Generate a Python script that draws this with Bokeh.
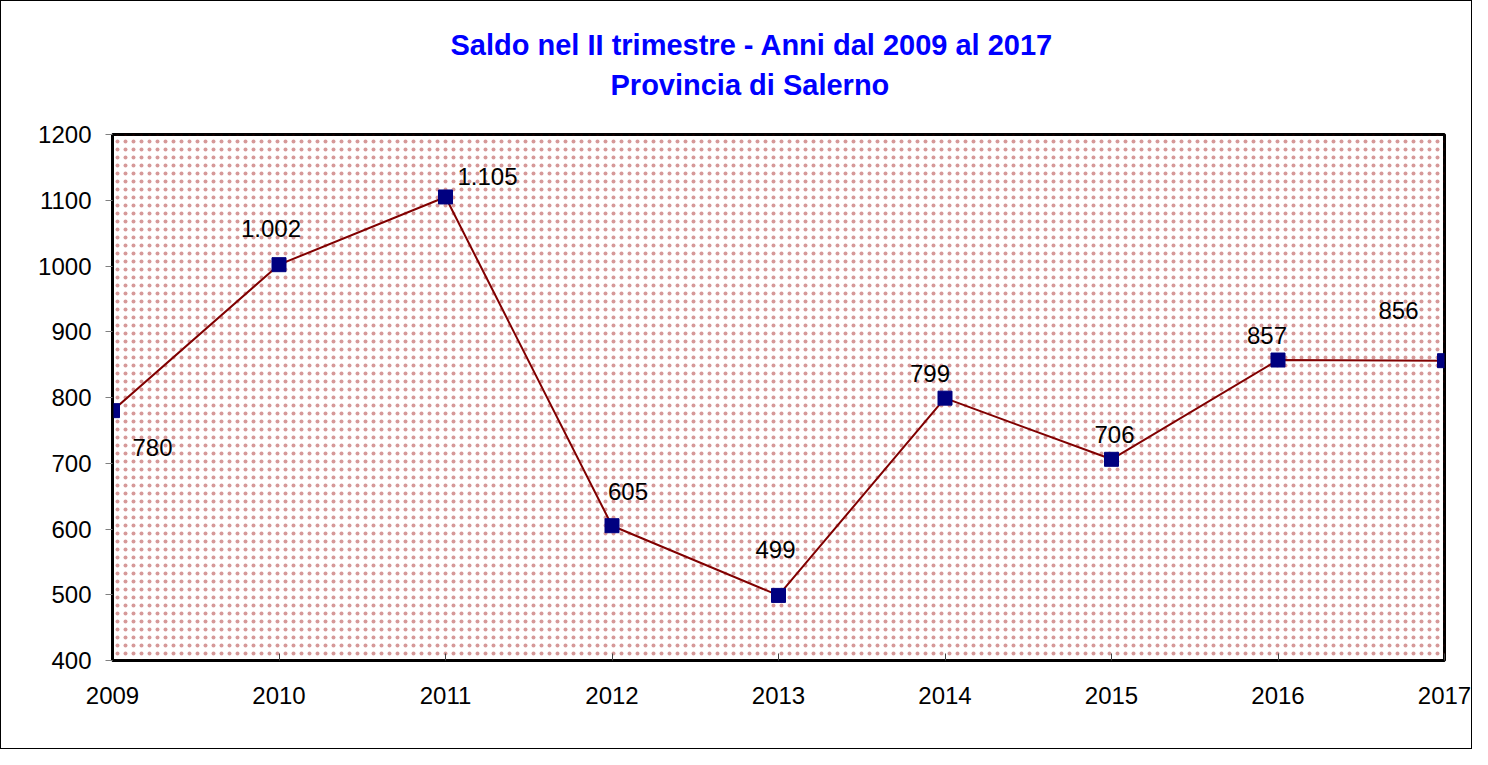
from bokeh.plotting import figure
from bokeh.models import ColumnDataSource, FixedTicker, BoxAnnotation, Range1d, Title
from bokeh.embed import file_html
from bokeh.resources import INLINE

years = [2009, 2010, 2011, 2012, 2013, 2014, 2015, 2016, 2017]
saldo = [780, 1002, 1105, 605, 499, 799, 706, 857, 856]
labels = ["780", "1.002", "1.105", "605", "499", "799", "706", "857", "856"]
y_ticks = [400, 500, 600, 700, 800, 900, 1000, 1100, 1200]
title_lines = ["Saldo nel II trimestre - Anni dal 2009 al 2017", "Provincia di Salerno"]

# label offsets in pixels (style only; positive dy = downwards)
dx = [40, -8, 42, 16, -3, -15, 3, -11, -46]
dy = [37, -36, -20, -34, -46, -25, -25, -25, -50]

src = ColumnDataSource(dict(x=years, y=saldo, lab=labels, dx=dx, dy=dy))

p = figure(width=1472, height=749, output_backend="svg", toolbar_location=None,
           x_range=Range1d(2009, 2017), y_range=Range1d(400, 1200),
           min_border_left=111, min_border_right=29, min_border_top=133, min_border_bottom=90)
p.styles = {"border": "1px solid black"}

TITLE_FONT = "Liberation Sans"
p.title.text = title_lines[0]
p.title.align = "left"
p.title.offset = 338
p.title.text_color = "#0000FF"
p.title.text_font = TITLE_FONT
p.title.text_font_size = "29px"
p.title.text_font_style = "bold"
p.title.standoff = 12
spacer = Title(text=" ", text_font=TITLE_FONT, text_font_size="29px", standoff=0)
p.add_layout(spacer, "above")
t2 = Title(text=title_lines[1], align="left", offset=498,
           text_color="#0000FF", text_font=TITLE_FONT, text_font_size="29px",
           text_font_style="bold", standoff=0)
p.add_layout(t2, "above")

p.xgrid.visible = False
p.ygrid.visible = False
p.outline_line_color = "black"
p.outline_line_width = 3
p.background_fill_color = "white"

bg = BoxAnnotation(fill_color=None, hatch_pattern="dot", hatch_color="#990000",
                   hatch_scale=8, hatch_weight=0.45, hatch_alpha=0.4, line_color=None, level="underlay")
p.add_layout(bg)

p.line("x", "y", source=src, line_color="#800000", line_width=2)
p.scatter("x", "y", source=src, marker="square", size=14, fill_color="#000080", line_color="#000080")
p.text("x", "y", text="lab", source=src, x_offset="dx", y_offset="dy",
       text_align="center", text_baseline="middle", text_font_size="24px",
       text_font={"value": "Liberation Sans"}, text_color="black")

p.xaxis.ticker = FixedTicker(ticks=years)
p.yaxis.ticker = FixedTicker(ticks=y_ticks)
for ax in (p.xaxis[0], p.yaxis[0]):
    ax.major_label_text_font = "Liberation Sans"
    ax.major_label_text_font_size = "24px"
    ax.major_label_text_color = "black"
    ax.minor_tick_line_color = None
    ax.axis_line_color = "black"
    ax.axis_line_width = 2
p.xaxis.major_tick_in = 7
p.xaxis.major_tick_out = 0
p.xaxis.major_tick_line_color = "#444444"
p.xaxis.major_label_standoff = 26
p.yaxis.major_tick_in = 0
p.yaxis.major_tick_out = 7
p.yaxis.major_tick_line_color = "#808080"
p.yaxis.major_label_standoff = 14

open("out.html", "w").write(file_html(p, INLINE))
